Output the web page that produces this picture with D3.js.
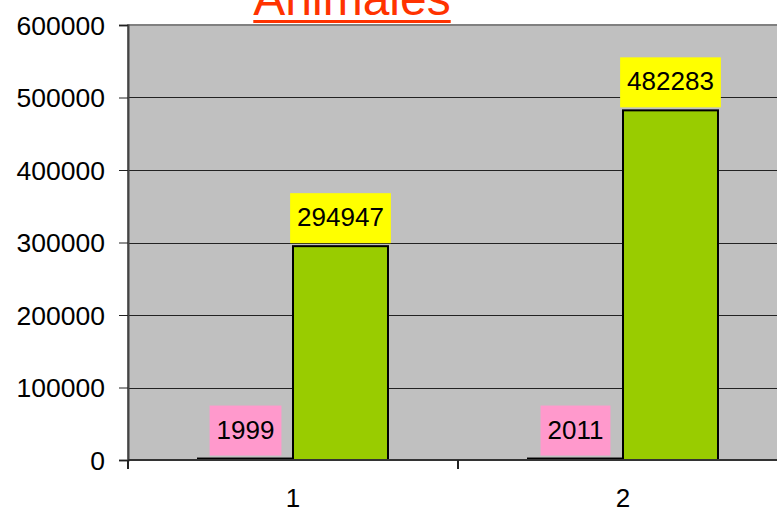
<!DOCTYPE html>
<html>
<head>
<meta charset="utf-8">
<script src="https://cdn.jsdelivr.net/npm/d3@7"></script>
<style>
  html, body { margin: 0; padding: 0; background: #ffffff; }
  svg { display: block; font-family: "Liberation Sans", Arial, sans-serif; }
</style>
</head>
<body>
<svg id="chart" width="777" height="513"></svg>
<script>
// Chart data
const title = "Animales";
const categories = ["1", "2"];
const seriesNames = ["Año", "Animales"];
const yearValues = [1999, 2011];
const animalValues = [294947, 482283];
const yTicks = [0, 100000, 200000, 300000, 400000, 500000, 600000];

const svg = d3.select("#chart");
const plot = { left: 128, right: 788, top: 25, bottom: 460 };

const x = d3.scaleBand().domain(categories).range([plot.left, plot.right]).padding(0);
const xs = d3.scaleBand().domain(seriesNames).range([0, x.bandwidth()])
  .paddingInner(0).paddingOuter(0.737);
const y = d3.scaleLinear().domain([0, 600000]).range([plot.bottom, plot.top]);

const rows = categories.map((c, i) => ({
  cat: c,
  values: [
    { key: seriesNames[0], value: yearValues[i], fill: "#000000", label: "#FF99CC" },
    { key: seriesNames[1], value: animalValues[i], fill: "#99CC00", label: "#FFFF00" }
  ]
}));

// Plot background
svg.append("rect")
  .attr("x", plot.left).attr("y", plot.top)
  .attr("width", plot.right - plot.left).attr("height", plot.bottom - plot.top)
  .attr("fill", "#C0C0C0").attr("stroke", "#808080").attr("stroke-width", 2);

// Gridlines
svg.append("g").selectAll("line")
  .data(yTicks.filter(t => t > 0 && t < 600000))
  .join("line")
  .attr("x1", plot.left).attr("x2", plot.right)
  .attr("y1", d => Math.round(y(d)) + 0.5).attr("y2", d => Math.round(y(d)) + 0.5)
  .attr("stroke", "#222").attr("stroke-width", 1);

// Bars
const groups = svg.append("g").selectAll("g")
  .data(rows).join("g")
  .attr("transform", d => `translate(${x(d.cat)},0)`);

groups.selectAll("rect")
  .data(d => d.values).join("rect")
  .attr("x", d => xs(d.key))
  .attr("y", d => y(d.value))
  .attr("width", xs.bandwidth())
  .attr("height", d => y(0) - y(d.value))
  .attr("fill", d => d.fill)
  .attr("stroke", "#000").attr("stroke-width", 2);

// Axes
const yAxis = d3.axisLeft(y).tickValues(yTicks).tickSize(9).tickPadding(14).tickFormat(d3.format("d"));
const gy = svg.append("g").attr("transform", `translate(${plot.left},0)`).call(yAxis);
gy.select(".domain").attr("stroke", "#444").attr("stroke-width", 2);
gy.selectAll(".tick line").attr("stroke", "#222");
gy.selectAll(".tick text").attr("font-size", 26.5).attr("fill", "#000")
  .attr("font-family", "Liberation Sans, Arial, sans-serif").attr("dy", "0.34em");

const xAxis = d3.axisBottom(x).tickSize(0).tickPadding(0);
const gx = svg.append("g").attr("transform", `translate(0,${plot.bottom})`).call(xAxis);
gx.select(".domain").remove();
gx.append("line").attr("x1", plot.left).attr("x2", plot.right)
  .attr("y1", 0).attr("y2", 0).attr("stroke", "#333").attr("stroke-width", 2);
gx.selectAll(".tick text").attr("font-size", 26).attr("fill", "#000")
  .attr("font-family", "Liberation Sans, Arial, sans-serif").attr("dy", 47);
// category boundary tick marks
gx.selectAll(".boundary")
  .data(categories.map(c => x(c)).concat([plot.right]))
  .join("line").attr("class", "boundary")
  .attr("x1", d => d).attr("x2", d => d)
  .attr("y1", 0).attr("y2", 9)
  .attr("stroke", "#222").attr("stroke-width", 2);

// Value labels
const labels = groups.selectAll("g.lbl")
  .data(d => d.values).join("g").attr("class", "lbl");
labels.each(function(d) {
  const g = d3.select(this);
  const cx = xs(d.key) + xs.bandwidth() / 2;
  const bottom = y(d.value) - 3;
  const t = g.append("text")
    .attr("x", cx).attr("y", bottom - 17)
    .attr("text-anchor", "middle").attr("font-size", 26).attr("fill", "#000")
    .text(d.value);
  const w = t.node().getComputedTextLength() + 14;
  g.insert("rect", "text")
    .attr("x", cx - w / 2).attr("y", bottom - 50)
    .attr("width", w).attr("height", 50)
    .attr("fill", d.label);
});

// Title
const tt = svg.append("text")
  .attr("x", 352).attr("y", 15)
  .attr("text-anchor", "middle").attr("font-size", 48).attr("fill", "#FF3300")
  .text(title);
const tw = tt.node().getComputedTextLength();
svg.append("line")
  .attr("x1", 352 - tw / 2).attr("x2", 352 + tw / 2)
  .attr("y1", 21.5).attr("y2", 21.5)
  .attr("stroke", "#FF3300").attr("stroke-width", 3);
</script>
</body>
</html>
